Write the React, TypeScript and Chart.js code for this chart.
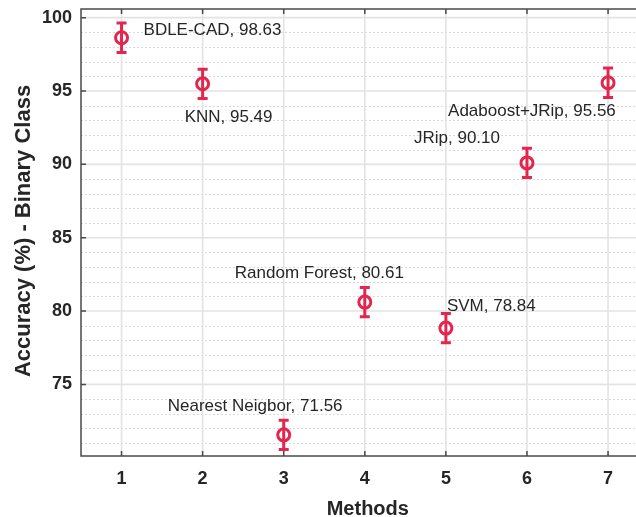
import React, { useEffect, useRef } from "react";
import { Chart, registerables } from "chart.js";

Chart.register(...registerables);

// ---- data ----
const methods = [1, 2, 3, 4, 5, 6, 7];
const methodNames = ["BDLE-CAD", "KNN", "Nearest Neigbor", "Random Forest", "SVM", "JRip", "Adaboost+JRip"];
const accuracy = [98.63, 95.49, 71.56, 80.61, 78.84, 90.10, 95.56];
const accuracyText = ["98.63", "95.49", "71.56", "80.61", "78.84", "90.10", "95.56"];
const errorHalf = [1.0, 1.0, 1.0, 1.0, 1.0, 1.0, 1.0];
const yTicks = [75, 80, 85, 90, 95, 100];
const xTicks = [1, 2, 3, 4, 5, 6, 7];
const xTitle = "Methods";
const yTitle = "Accuracy (%) - Binary Class";

// ---- styling (label offsets in px from the marker) ----
const labelOffsets = [
  [22, -7],
  [-18, 33],
  [-116, -29],
  [-130, -29],
  [1, -22],
  [-113, -25],
  [-160, 29],
];

const RED = "#e3264d";
const TEXT = "#262626";
const FONT = "'Liberation Sans', Arial, Helvetica, sans-serif";

const decorPlugin = {
  id: "decor",
  beforeDatasetsDraw(chart: any) {
    const { ctx, chartArea: a, scales } = chart;
    const x = scales.x;
    const y = scales.y;
    ctx.save();
    const hline = (py: number) => {
      ctx.beginPath();
      ctx.moveTo(a.left, py);
      ctx.lineTo(a.right, py);
      ctx.stroke();
    };
    // minor dotted horizontal grid (every 1 unit)
    ctx.strokeStyle = "#dadada";
    ctx.lineWidth = 1;
    ctx.setLineDash([2, 2]);
    for (let v = Math.ceil(y.min); v <= y.max; v++) {
      if (v % 5 === 0) continue;
      hline(Math.round(y.getPixelForValue(v)) + 0.5);
    }
    ctx.setLineDash([]);
    // major horizontal grid
    ctx.strokeStyle = "#e3e3e3";
    ctx.lineWidth = 1.6;
    yTicks.forEach((v) => hline(y.getPixelForValue(v)));
    // vertical grid
    xTicks.forEach((v) => {
      const px = x.getPixelForValue(v);
      ctx.beginPath();
      ctx.moveTo(px, a.top);
      ctx.lineTo(px, a.bottom);
      ctx.stroke();
    });
    // frame
    ctx.strokeStyle = "#4a4a4a";
    ctx.lineWidth = 1.5;
    ctx.strokeRect(a.left, a.top, a.right - a.left, a.bottom - a.top);
    // tick marks (inward)
    const tl = 5;
    yTicks.forEach((v) => {
      const py = y.getPixelForValue(v);
      ctx.beginPath();
      ctx.moveTo(a.left, py);
      ctx.lineTo(a.left + tl, py);
      ctx.moveTo(a.right, py);
      ctx.lineTo(a.right - tl, py);
      ctx.stroke();
    });
    xTicks.forEach((v) => {
      const px = x.getPixelForValue(v);
      ctx.beginPath();
      ctx.moveTo(px, a.bottom);
      ctx.lineTo(px, a.bottom - tl);
      ctx.moveTo(px, a.top);
      ctx.lineTo(px, a.top + tl);
      ctx.stroke();
    });
    // error bars
    ctx.strokeStyle = RED;
    ctx.lineWidth = 3;
    const cap = 5;
    methods.forEach((m, i) => {
      const px = x.getPixelForValue(m);
      const top = y.getPixelForValue(accuracy[i] + errorHalf[i]);
      const bot = y.getPixelForValue(accuracy[i] - errorHalf[i]);
      ctx.beginPath();
      ctx.moveTo(px, top);
      ctx.lineTo(px, bot);
      ctx.moveTo(px - cap, top);
      ctx.lineTo(px + cap, top);
      ctx.moveTo(px - cap, bot);
      ctx.lineTo(px + cap, bot);
      ctx.stroke();
    });
    ctx.restore();
  },
  afterDraw(chart: any) {
    const { ctx, chartArea: a, scales } = chart;
    const x = scales.x;
    const y = scales.y;
    ctx.save();
    // point labels
    ctx.fillStyle = TEXT;
    ctx.font = `17px ${FONT}`;
    ctx.textAlign = "left";
    ctx.textBaseline = "middle";
    methods.forEach((m, i) => {
      const px = x.getPixelForValue(m);
      const py = y.getPixelForValue(accuracy[i]);
      ctx.fillText(`${methodNames[i]}, ${accuracyText[i]}`, px + labelOffsets[i][0], py + labelOffsets[i][1]);
    });
    // axis titles
    ctx.font = `bold 20px ${FONT}`;
    ctx.textAlign = "center";
    ctx.fillText(xTitle, (a.left + a.right) / 2 + 3, 509);
    ctx.font = `bold 22px ${FONT}`;
    ctx.translate(24, 231);
    ctx.rotate(-Math.PI / 2);
    ctx.fillText(yTitle, 0, 0);
    ctx.restore();
  },
};

export default function App() {
  const ref = useRef<HTMLCanvasElement | null>(null);
  useEffect(() => {
    if (!ref.current) return;
    const chart = new Chart(ref.current, {
      type: "scatter",
      data: {
        datasets: [
          {
            data: methods.map((m, i) => ({ x: m, y: accuracy[i] })),
            pointRadius: 6,
            pointHoverRadius: 6,
            pointBorderWidth: 3,
            pointBackgroundColor: "rgba(0,0,0,0)",
            pointBorderColor: RED,
            showLine: false,
          },
        ],
      },
      options: {
        responsive: false,
        animation: false,
        events: [],
        layout: { padding: { top: 8, right: 11.4, bottom: 0, left: 0 } },
        plugins: { legend: { display: false }, tooltip: { enabled: false } },
        scales: {
          x: {
            type: "linear",
            min: 0.5,
            max: 7.5,
            afterBuildTicks: (s: any) => {
              s.ticks = xTicks.map((v) => ({ value: v }));
            },
            afterFit: (s: any) => {
              s.height = 61;
              s.paddingLeft = 0;
              s.paddingRight = 0;
            },
            ticks: {
              autoSkip: false,
              maxRotation: 0,
              padding: 12,
              color: TEXT,
              font: { family: FONT, size: 18, weight: "bold" },
            },
            grid: { display: false, drawTicks: false },
            border: { display: false },
          },
          y: {
            type: "linear",
            min: 70.12,
            max: 100.59,
            afterBuildTicks: (s: any) => {
              s.ticks = yTicks.map((v) => ({ value: v }));
            },
            afterFit: (s: any) => {
              s.width = 81;
              s.paddingTop = 0;
              s.paddingBottom = 0;
            },
            ticks: {
              padding: 9,
              color: TEXT,
              font: { family: FONT, size: 18, weight: "bold" },
            },
            grid: { display: false, drawTicks: false },
            border: { display: false },
          },
        },
      },
      plugins: [decorPlugin],
    });
    return () => chart.destroy();
  }, []);
  return (
    <div style={{ position: "absolute", left: 0, top: 0, width: 636, height: 517, overflow: "hidden", background: "#fff" }}>
      <canvas ref={ref} width={660} height={517} style={{ display: "block", width: 660, height: 517 }} />
    </div>
  );
}
